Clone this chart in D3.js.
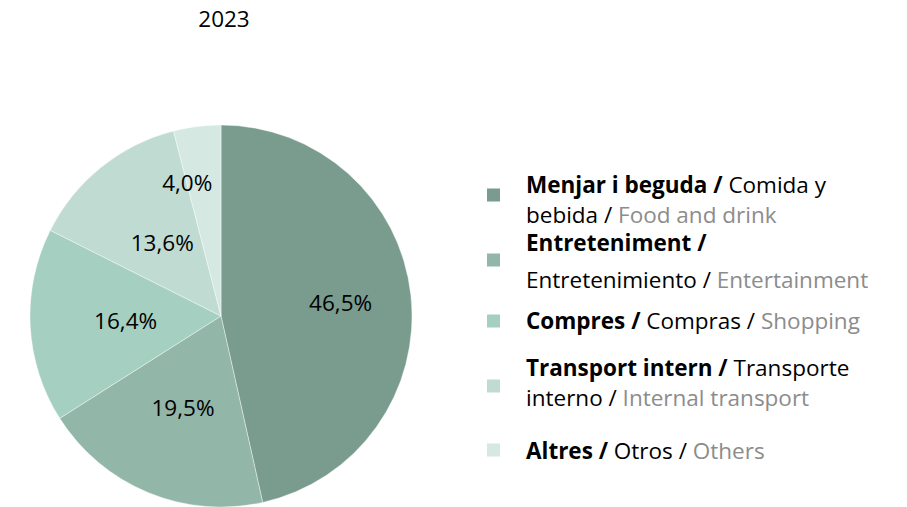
<!DOCTYPE html>
<html>
<head>
<meta charset="utf-8">
<script src="https://cdn.jsdelivr.net/npm/d3@7"></script>
<style>
  html, body { margin: 0; padding: 0; background: #fff; }
  svg text { font-family: "Open Sans", "Noto Sans", sans-serif; }
</style>
</head>
<body>
<svg id="chart" width="907" height="507"></svg>
<script>
// Spending breakdown, 2023
const title = "2023";
const labelsCa = ["Menjar i beguda", "Entreteniment", "Compres", "Transport intern", "Altres"];
const labelsEs = ["Comida y bebida", "Entretenimiento", "Compras", "Transporte interno", "Otros"];
const labelsEn = ["Food and drink", "Entertainment", "Shopping", "Internal transport", "Others"];
const shares = [46.5, 19.5, 16.4, 13.6, 4.0];
const colours = ["#7a9c8f", "#92b6a8", "#a4cfc1", "#c0dbd2", "#d5e8e2"];

const svg = d3.select("#chart");
const cx = 221, cy = 316, R = 191;
const fontSize = 22.5;

svg.append("text")
  .attr("x", 224).attr("y", 27)
  .attr("text-anchor", "middle")
  .attr("font-size", fontSize)
  .attr("fill", "#000")
  .text(title);

const pie = d3.pie().sort(null).value(d => d);
const arcs = pie(shares);
const arc = d3.arc().innerRadius(0).outerRadius(R);

const g = svg.append("g").attr("transform", `translate(${cx},${cy})`);

g.selectAll("path.slice")
  .data(arcs)
  .join("path")
  .attr("class", "slice")
  .attr("d", arc)
  .attr("fill", (d, i) => colours[i])
  .attr("stroke", "#ffffff")
  .attr("stroke-opacity", 0.5)
  .attr("stroke-width", 0.8);

// label placement: distance from centre as a share of the radius,
// plus a sideways nudge for the narrow last slice
const labelRadius = [0.63, 0.52, 0.50, 0.49, 0.70];
const labelNudge = [0, 0, 0, 0, -17];
const fmt = v => d3.format(".1f")(v).replace(".", ",") + "%";

g.selectAll("text.val")
  .data(arcs)
  .join("text")
  .attr("class", "val")
  .attr("x", (d, i) => {
    const a = (d.startAngle + d.endAngle) / 2;
    return Math.sin(a) * R * labelRadius[i] + labelNudge[i];
  })
  .attr("y", (d, i) => {
    const a = (d.startAngle + d.endAngle) / 2;
    return -Math.cos(a) * R * labelRadius[i];
  })
  .attr("dy", "0.35em")
  .attr("text-anchor", "middle")
  .attr("font-size", fontSize)
  .attr("fill", "#000")
  .text(d => fmt(d.data));

// legend: each entry is wrapped onto one or two lines
const legendLines = [
  [[{t: labelsCa[0] + " /", b: true}, {t: " Comida y"}], [{t: "bebida /"}, {t: " " + labelsEn[0], g: true}]],
  [[{t: labelsCa[1] + " /", b: true}], [{t: labelsEs[1] + " /"}, {t: " " + labelsEn[1], g: true}]],
  [[{t: labelsCa[2] + " /", b: true}, {t: " " + labelsEs[2] + " /"}, {t: " " + labelsEn[2], g: true}]],
  [[{t: labelsCa[3] + " /", b: true}, {t: " Transporte"}], [{t: "interno /"}, {t: " " + labelsEn[3], g: true}]],
  [[{t: labelsCa[4] + " /", b: true}, {t: " " + labelsEs[4] + " /"}, {t: " " + labelsEn[4], g: true}]]
];
const legendFirstBaseline = [193, 251, 329, 376, 459];
const lineGap = [30, 37, 30, 30, 30];
const swatchY = [195, 260, 321, 386, 450];

const leg = svg.append("g");
legendLines.forEach((lines, i) => {
  leg.append("rect")
    .attr("x", 487).attr("y", swatchY[i] - 6.5)
    .attr("width", 13).attr("height", 13)
    .attr("fill", colours[i]);
  lines.forEach((parts, j) => {
    const t = leg.append("text")
      .attr("x", 526)
      .attr("y", legendFirstBaseline[i] + j * lineGap[i])
      .attr("font-size", fontSize)
      .attr("xml:space", "preserve");
    parts.forEach(p => {
      t.append("tspan")
        .attr("font-weight", p.b ? 700 : 400)
        .attr("fill", p.g ? "#8c8c8c" : "#000")
        .text(p.t);
    });
  });
});
</script>
</body>
</html>
